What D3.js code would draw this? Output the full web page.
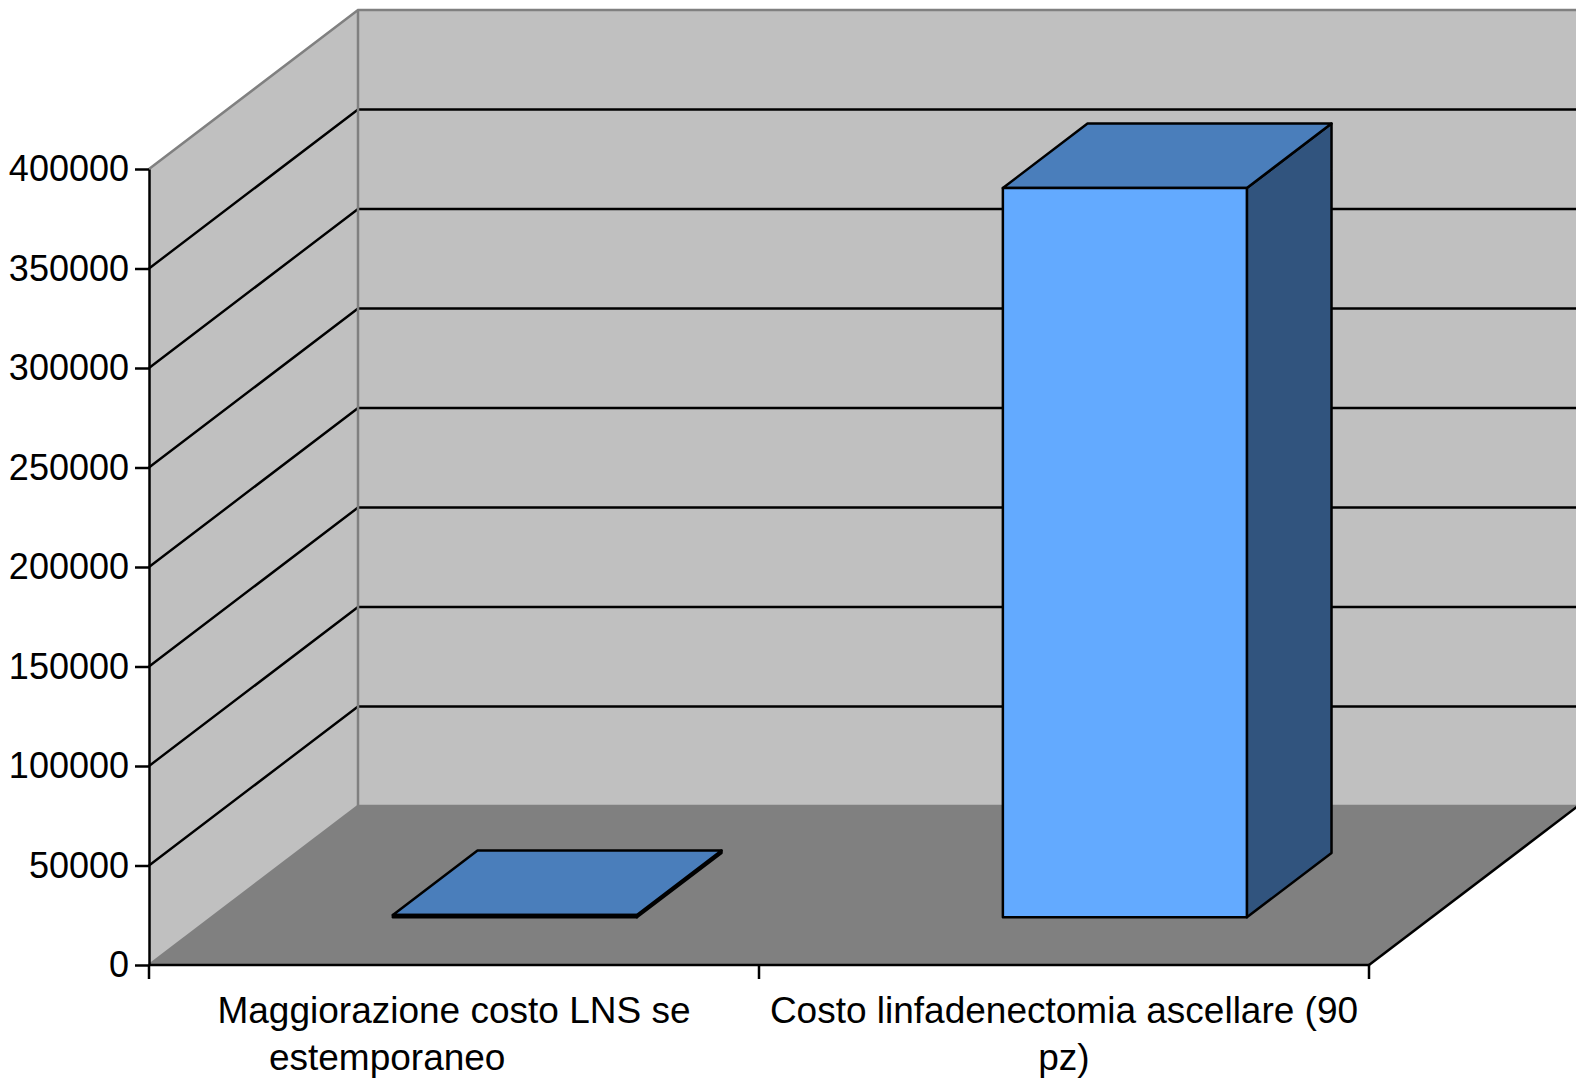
<!DOCTYPE html>
<html>
<head>
<meta charset="utf-8">
<script src="https://cdn.jsdelivr.net/npm/d3@7/dist/d3.min.js"></script>
<style>
  html, body { margin: 0; padding: 0; background: #ffffff; }
  svg { display: block; }
  text { font-family: "Liberation Sans", Arial, sans-serif; fill: #000; white-space: pre; }
</style>
</head>
<body>
<svg id="chart" width="1576" height="1088"></svg>
<script>
// Categories and costs (euro); the first label keeps its trailing padding
const categories = [
  "Maggiorazione costo LNS se estemporaneo             ",
  "Costo linfadenectomia ascellare (90 pz)"
];
const costs = [1200, 366500];
const yTicks = [0, 50000, 100000, 150000, 200000, 250000, 300000, 350000, 400000];

const svg = d3.select("#chart");

// Front plane geometry and oblique depth offset
const plotLeft = 149, plotRight = 1369, plotBottom = 965, plotTop = 169;
const DX = 209, DY = 159;
const barFront = 0.30, barBack = 0.705;
const fontSize = 37, tickFontSize = 36;

const x = d3.scaleBand().domain(categories).range([plotLeft, plotRight]).paddingInner(0).paddingOuter(0);
const y = d3.scaleLinear().domain([0, 400000]).range([plotBottom, plotTop]);

const P = (px, v, d) => [px + d * DX, y(v) - d * DY];
const poly = pts => "M" + pts.map(p => p.join(",")).join("L") + "Z";
const line = pts => "M" + pts.map(p => p.join(",")).join("L");

const yMax = y.domain()[1];

// Left wall
svg.append("path")
  .attr("d", poly([P(plotLeft, 0, 0), P(plotLeft, yMax, 0), P(plotLeft, yMax, 1), P(plotLeft, 0, 1)]))
  .attr("fill", "#c0c0c0");
// Back wall
svg.append("path")
  .attr("d", poly([P(plotLeft, 0, 1), P(plotLeft, yMax, 1), P(plotRight, yMax, 1), P(plotRight, 0, 1)]))
  .attr("fill", "#c0c0c0");
// Floor
svg.append("path")
  .attr("d", poly([P(plotLeft, 0, 0), P(plotRight, 0, 0), P(plotRight, 0, 1), P(plotLeft, 0, 1)]))
  .attr("fill", "#808080");

// Gridlines along left and back walls
const inner = yTicks.filter(t => t > 0 && t < yMax);
svg.append("g").selectAll("path").data(inner).join("path")
  .attr("d", t => line([P(plotLeft, t, 0), P(plotLeft, t, 1), P(plotRight, t, 1)]))
  .attr("fill", "none").attr("stroke", "#000").attr("stroke-width", 2.4);

// Wall edges
const edge = svg.append("g").attr("fill", "none").attr("stroke", "#808080").attr("stroke-width", 2.5);
edge.append("path").attr("d", line([P(plotLeft, yMax, 0), P(plotLeft, yMax, 1), P(plotRight, yMax, 1)]));
edge.append("path").attr("d", line([P(plotLeft, yMax, 1), P(plotLeft, 0, 1), P(plotRight, 0, 1)]));
edge.append("path").attr("d", line([P(plotLeft, 0, 0), P(plotLeft, 0, 1)]));

// Floor right edge
svg.append("path")
  .attr("d", line([P(plotRight, 0, 0), P(plotRight, 0, 1)]))
  .attr("stroke", "#000").attr("stroke-width", 2.5).attr("fill", "none");

// 3D bars
const bw = x.bandwidth() * 0.4;
const bars = svg.append("g").selectAll("g").data(categories.map((c, i) => ({ c, v: costs[i] }))).join("g")
  .attr("stroke", "#000").attr("stroke-width", 2.5).attr("stroke-linejoin", "round");
bars.each(function (d) {
  const g = d3.select(this);
  const x0 = x(d.c) + x.bandwidth() * 0.297, x1 = x0 + bw;
  // right side
  g.append("path").attr("fill", "#31547e")
    .attr("d", poly([P(x1, 0, barFront), P(x1, 0, barBack), P(x1, d.v, barBack), P(x1, d.v, barFront)]));
  // top
  g.append("path").attr("fill", "#4a7ebb")
    .attr("d", poly([P(x0, d.v, barFront), P(x1, d.v, barFront), P(x1, d.v, barBack), P(x0, d.v, barBack)]));
  // front
  g.append("path").attr("fill", "#63aaff")
    .attr("d", poly([P(x0, 0, barFront), P(x1, 0, barFront), P(x1, d.v, barFront), P(x0, d.v, barFront)]));
});

// Value axis
const yAxis = svg.append("g").attr("transform", `translate(${plotLeft},0)`)
  .call(d3.axisLeft(y).tickValues(yTicks).tickFormat(d3.format("d")).tickSize(14).tickSizeOuter(0).tickPadding(6));
yAxis.select(".domain").attr("stroke", "#000").attr("stroke-width", 2.5);
yAxis.selectAll(".tick line").attr("stroke", "#000").attr("stroke-width", 2.5);
yAxis.selectAll(".tick text").attr("font-size", tickFontSize).attr("font-family", "Liberation Sans, Arial, sans-serif").attr("fill", "#000");

// Category axis
const xAxis = svg.append("g");
xAxis.append("line").attr("x1", plotLeft).attr("x2", plotRight).attr("y1", plotBottom).attr("y2", plotBottom)
  .attr("stroke", "#000").attr("stroke-width", 2.5);
const bounds = categories.map(c => x(c)).concat([plotRight]);
xAxis.selectAll("line.tk").data(bounds).join("line").attr("class", "tk")
  .attr("x1", d => d).attr("x2", d => d).attr("y1", plotBottom).attr("y2", plotBottom + 14)
  .attr("stroke", "#000").attr("stroke-width", 2.5);

// Wrapped category labels
const labels = xAxis.selectAll("text.cat").data(categories).join("text").attr("class", "cat")
  .attr("x", d => x(d) + x.bandwidth() / 2).attr("y", plotBottom + 58)
  .attr("xml:space", "preserve")
  .attr("text-anchor", "middle").attr("font-size", fontSize);
labels.each(function (d) {
  const t = d3.select(this);
  const cx = x(d) + x.bandwidth() / 2;
  const words = d.split(/ (?=\S)/);
  const maxW = x.bandwidth() - 10;
  let current = [];
  let span = t.append("tspan").attr("x", cx).attr("dy", 0);
  words.forEach(w => {
    current.push(w);
    span.text(current.join(" "));
    if (span.node().getComputedTextLength() > maxW && current.length > 1) {
      current.pop();
      span.text(current.join(" "));
      current = [w];
      span = t.append("tspan").attr("x", cx).attr("dy", 47).text(w);
    }
  });
});
</script>
</body>
</html>
